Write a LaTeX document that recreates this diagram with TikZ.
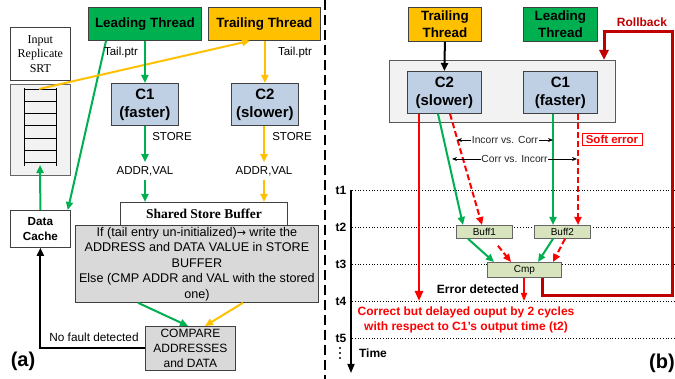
\documentclass[tikz,border=0pt]{standalone}
\usepackage{fontspec}
\setmainfont{Liberation Sans}
\newfontfamily\seriffont{Liberation Serif}
\newfontfamily\symfont{DejaVu Sans}
\usetikzlibrary{arrows.meta,calc}
\definecolor{lgreen}{HTML}{00B050}
\definecolor{lyellow}{HTML}{FFC000}
\definecolor{cboxc}{HTML}{BFD0E5}
\definecolor{buffc}{HTML}{D7E4BD}
\definecolor{gboxc}{HTML}{D9D9D9}
\definecolor{lboxc}{HTML}{F2F2F2}
\definecolor{dred}{HTML}{C00000}
\begin{document}
\begin{tikzpicture}[x=1pt,y=-1pt,
  box/.style={draw=black!75, line width=0.8pt, inner sep=0pt, anchor=north west, align=center},
  thr/.style={box, font=\fontsize{13.4}{17}\selectfont\bfseries},
  core/.style={box, fill=cboxc, font=\fontsize{15}{18}\selectfont\bfseries},
  lbl/.style={font=\fontsize{11.5}{13}\selectfont, inner sep=1pt},
  tl/.style={font=\fontsize{12}{14}\selectfont\bfseries, inner sep=0pt},
  smallbox/.style={box, fill=buffc, draw=black!60, font=\fontsize{10}{12}\selectfont},
  garr/.style={draw=lgreen, line width=2pt, -{Triangle[length=8pt,width=7pt]}},
  yarr/.style={draw=lyellow, line width=2pt, -{Triangle[length=8pt,width=7pt]}},
  rdash/.style={draw=red, line width=2pt, dash pattern=on 6pt off 3pt, -{Triangle[length=8pt,width=7pt]}},
  bar/.style={draw=black, line width=0.8pt, {Stealth[length=5pt,width=4pt]}-{Stealth[length=5pt,width=4pt]}},
  tline/.style={draw=black, line width=0.8pt, dotted}
]
\useasboundingbox (0,0) rectangle (675,379);

% ---------------- (a) ----------------
\node[thr, fill=lgreen, minimum width=113pt, minimum height=33pt] (lt) at (88,7) {Leading Thread};
\node[thr, fill=lyellow, minimum width=112pt, minimum height=33pt] (tt) at (208,7) {Trailing Thread};
\node[box, minimum width=60pt, minimum height=53pt, font=\seriffont\fontsize{12}{14.5}\selectfont] (srt) at (10,27) {Input\\Replicate\\SRT};
\node[box, fill=lboxc, draw=black!60, minimum width=60pt, minimum height=91pt] (lad) at (10,84) {};
\draw[line width=0.8pt] (24,88) -- (24,166) (56,88) -- (56,166);
\foreach \i in {0,...,6} \draw[line width=0.8pt] (24,89+12.3*\i) -- (56,89+12.3*\i);
\coordinate (ladtop) at (39,89);
\coordinate (ladbot) at (40,165);
\node[box, minimum width=60pt, minimum height=37pt, font=\fontsize{11.7}{15}\selectfont\bfseries] (dc) at (10,210) {Data\\Cache};

\node[core, minimum width=67pt, minimum height=42pt] (c1) at (111,83) {C1\\(faster)};
\node[core, minimum width=67pt, minimum height=42pt] (c2) at (231,83) {C2\\(slower)};

\draw[garr] ($(lt.south west)+(18,0)$) -- ($(dc.north east)+(-3,0)$);
\draw[garr] (dc.north) -- (ladbot);
\draw[draw=lyellow, line width=2pt, -{Triangle[length=8pt,width=7pt]}] (ladtop) -- ($(tt.south west)+(42,0)$);

\node[lbl] at (121,53) {Tail.ptr};
\node[lbl] at (295,53) {Tail.ptr};
\draw[garr] (lt.south -| c1.north) -- (c1.north);
\draw[yarr] (tt.south -| c2.north) -- (c2.north);

\node[lbl] at (172,137) {STORE};
\node[lbl] at (292,137) {STORE};
\node[lbl, inner sep=4pt] (av1) at (145,171) {ADDR,VAL};
\node[lbl, inner sep=4pt] (av2) at (264,171) {ADDR,VAL};
\draw[garr] (c1.south -| av1.north) -- (av1.north);
\draw[yarr] (c2.south -| av2.north) -- (av2.north);

\node[box, minimum width=167pt, minimum height=23pt, font=\seriffont\fontsize{13.5}{15}\selectfont\bfseries] (ssb) at (120,202) {Shared Store Buffer};
\draw[garr] (av1.south) -- (av1.south |- ssb.north);
\draw[yarr] (av2.south) -- (av2.south |- ssb.north);

\node[box, fill=gboxc, minimum width=243pt, minimum height=77pt, font=\fontsize{12.6}{15.5}\selectfont] (gb) at (75,225)
 {If (tail entry un-initialized){\symfont\fontsize{11}{12}\selectfont →} write the\\ADDRESS and DATA VALUE in STORE\\BUFFER\\Else (CMP ADDR and VAL with the stored\\one)};

\node[box, fill=gboxc, minimum width=90pt, minimum height=44pt, font=\fontsize{12}{15}\selectfont] (cmpa) at (145,326) {COMPARE\\ADDRESSES\\and DATA};
\draw[garr] ($(gb.south west)+(63,0)$) -- ($(cmpa.north west)+(43,0)$);
\draw[yarr] ($(gb.south west)+(168,0)$) -- ($(cmpa.north west)+(60,0)$);

\draw[line width=2pt, -{Triangle[length=8pt,width=7pt]}] (cmpa.west) -| (dc.south);
\node[lbl, font=\fontsize{11.8}{13}\selectfont] at (94,337) {No fault detected};
\node[font=\fontsize{20}{22}\selectfont\bfseries, inner sep=0pt] at (23,361) {(a)};

% divider
\draw[line width=2.5pt, dash pattern=on 10pt off 5pt] (325,0) -- (325,379);

% ---------------- (b) ----------------
\node[thr, fill=lyellow, minimum width=73pt, minimum height=34pt] (tt2) at (408,7) {Trailing\\Thread};
\node[thr, fill=lgreen, minimum width=74pt, minimum height=34pt] (lt2) at (523,7) {Leading\\Thread};
\node[box, fill=lboxc, draw=black!65, minimum width=226pt, minimum height=62pt] (big) at (389,60) {};
\node[core, minimum width=74pt, minimum height=42pt] (c2b) at (407,71) {C2\\(slower)};
\node[core, minimum width=74pt, minimum height=42pt] (c1b) at (523,71) {C1\\(faster)};
\draw[line width=2pt, -{Triangle[length=8pt,width=7pt]}] (tt2.south) -- (c2b.north);

% time lines
\foreach \n/\y in {1/190,2/227,3/264,4/301,5/338}{
  \coordinate (t\n) at (352,\y);
  \draw[tline] (t\n) -- (675,\y);
  \node[tl] at (341,\y) {t\n};
}
\foreach \d in {348,353,358} \fill (340,\d) circle (1.1pt);
\coordinate (tend) at (351,373);
\draw[line width=1.6pt, -{Triangle[length=9pt,width=7pt]}] (351,190) -- (tend);
\node[tl] at (373,353) {Time};

\node[smallbox, minimum width=56pt, minimum height=13pt] (b1) at (456,225) {Buff1};
\node[smallbox, minimum width=56pt, minimum height=13pt] (b2) at (534,225) {Buff2};
\node[smallbox, minimum width=74pt, minimum height=15pt] (cmp) at (487,262) {Cmp};

% red solid from C2
\coordinate (rs) at ($(c2b.south west)+(12,0)$);
\draw[draw=red, line width=2.5pt, -{Triangle[length=10pt,width=8pt]}] (rs) -- (rs |- t4);
% C2 -> Buff1
\draw[garr] ($(c2b.south west)+(31,0)$) -- ($(b1.north west)+(7,0)$);
\draw[rdash] ($(c2b.south west)+(43,0)$) -- ($(b1.north west)+(26,0)$);
% C1 -> Buff2
\draw[garr] ($(c1b.south west)+(30,0)$) -- ($(b2.north west)+(19,0)$);
\draw[rdash] ($(c1b.south west)+(55,0)$) -- ($(b2.north west)+(44,0)$);

\node[draw=red, fill=white, line width=0.8pt, inner sep=1pt, minimum width=60pt, minimum height=12pt, text=red, font=\fontsize{11.5}{12}\selectfont\bfseries] (se) at (612,139) {Soft error};

\coordinate (ic1) at (457,140); \coordinate (ic2) at (553,140);
\draw[bar] (ic1) -- node[fill=white, inner sep=0.5pt, font=\fontsize{10.3}{12}\selectfont, text=black!85] {Incorr vs. Corr} (ic2);
\coordinate (ci1) at (452,159); \coordinate (ci2) at (577,159);
\draw[bar] (ci1) -- node[fill=white, inner sep=0.5pt, font=\fontsize{10.3}{12}\selectfont, text=black!85] {Corr vs. Incorr} (ci2);

% Buff -> Cmp
\draw[garr] ($(b1.south west)+(12,0)$) -- ($(cmp.north west)+(7,0)$);
\draw[rdash] ($(b1.south west)+(42,7)$) -- ($(cmp.north west)+(24,0)$);
\draw[garr] ($(b2.south west)+(19,0)$) -- ($(cmp.north west)+(51,0)$);
\draw[rdash] ($(b2.south west)+(31,0)$) -- ($(cmp.north west)+(66,0)$);

\coordinate (ed) at ($(cmp.south west)+(37,0)$);
\draw[draw=red, line width=1.6pt, -{Triangle[length=8pt,width=6pt]}] (ed) -- (ed |- t4);
\node[tl] at (478,289) {Error detected};

% rollback
\coordinate (rb) at (604,32);
\draw[draw=dred, line width=3pt, -{Triangle[length=10pt,width=9pt]}] ($(cmp.south west)+(55,0)$) |- (672,296) -- (672,32) -- (rb) -- (rb |- big.north);
\node[tl, text=dred] at (642,22) {Rollback};

\node[font=\fontsize{12}{14.5}\selectfont\bfseries, text=red, align=center, inner sep=0pt] at (466,320) {Correct but delayed ouput by 2 cycles\\with respect to C1's output time (t2)};
\node[font=\fontsize{20}{22}\selectfont\bfseries, inner sep=0pt] at (662,363) {(b)};
\end{tikzpicture}
\end{document}
